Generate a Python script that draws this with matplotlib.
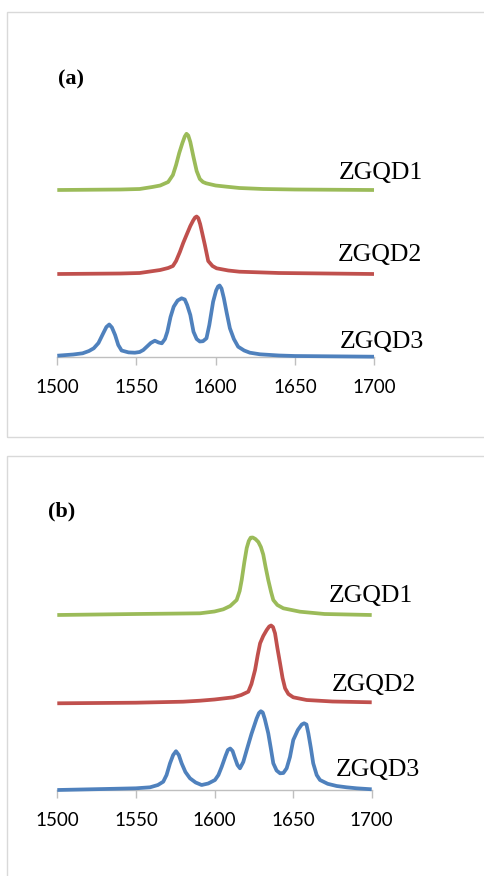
import matplotlib
matplotlib.use("Agg")
import matplotlib.pyplot as plt
from matplotlib.patches import Rectangle

# ---------------- data (panel a) ----------------
a_g_x = [1500, 1540, 1552, 1560, 1565, 1570, 1573, 1575, 1577, 1579, 1580.5, 1581.6, 1582.7, 1584, 1586, 1588, 1590, 1592, 1594, 1600, 1607, 1615, 1630, 1650, 1700]
a_g_y = [167, 167.5, 168, 170, 171.5, 175, 182, 192, 204, 214, 220.5, 223.2, 221.5, 215, 200, 186, 178, 175, 173.7, 171.5, 170.3, 169, 168, 167.5, 167]

a_r_x = [1500, 1540, 1552, 1565, 1570, 1573, 1575, 1577.4, 1579.5, 1581.6, 1584, 1585.8, 1587, 1588, 1589, 1590.2, 1591.5, 1593.2, 1595.3, 1598, 1600.6, 1608, 1615, 1640, 1700]
a_r_y = [83, 83.5, 84, 87, 89, 91, 96, 105, 114, 122, 131, 136.5, 139.5, 140.5, 139, 133, 124, 112, 96, 91, 88.7, 86.5, 85.3, 84, 83]

a_b_x = [1500, 1510, 1516, 1520, 1523, 1526, 1529, 1531, 1532.8, 1534.5, 1536.5, 1538.5, 1540.6, 1545, 1549, 1552, 1554.3, 1557, 1559, 1561.6, 1564, 1566, 1568, 1569.5, 1571.5, 1573.5, 1576, 1578.5, 1580.5, 1582, 1584, 1586, 1588, 1590, 1592, 1594.2, 1596, 1598.4, 1600.3, 1601.5, 1602.5, 1603.7, 1605.2, 1607, 1609, 1611.5, 1614.2, 1618, 1621.6, 1628, 1640, 1650, 1700]
a_b_y = [1.3, 2.5, 3.7, 6, 8.7, 14, 23.7, 30, 32.5, 29.5, 22, 12, 6.5, 4.6, 4.3, 5, 7, 11, 14, 16.3, 14.5, 13.7, 18, 25.3, 40, 50.3, 56.5, 58.7, 57.5, 52, 42, 25.3, 18, 15.5, 15.8, 18.7, 32, 55.3, 66.5, 70.5, 71.5, 68.5, 58.7, 44, 28.7, 18, 10.3, 6.5, 4.3, 2.7, 1.5, 1, 0.3]

# ---------------- data (panel b) ----------------
b_g_x = [1500, 1550, 1580, 1590.8, 1600, 1605.6, 1610, 1614.1, 1616, 1617.3, 1619, 1620.5, 1621.8, 1623, 1624.3, 1626, 1627.9, 1629.5, 1631, 1632.5, 1634.2, 1636, 1637.4, 1640, 1643.8, 1654.4, 1670, 1700]
b_g_y = [175, 176, 176.5, 176.7, 178.5, 180.7, 184, 190, 199, 210, 228, 242, 249, 252.3, 252.5, 251, 248, 243, 235.5, 223, 210, 198, 190, 185, 181.7, 178.3, 176, 175]

b_r_x = [1500, 1550, 1580, 1590.8, 1600, 1612, 1617, 1621.5, 1623.5, 1625.8, 1627.5, 1629, 1631, 1633.2, 1634.8, 1636, 1637.2, 1638.5, 1640, 1641.7, 1643.3, 1644.9, 1647, 1650.1, 1658.6, 1675, 1700]
b_r_y = [86.7, 87.3, 88.3, 89.3, 90.5, 92.7, 95, 98.3, 106, 120, 135, 146.7, 154, 160, 163.5, 164.5, 163, 156.7, 142, 126.7, 112, 101.7, 96, 92.7, 90, 88.5, 87.7]

b_b_x = [1500, 1530, 1550, 1559, 1564, 1567.4, 1569.5, 1571.7, 1573.7, 1575.5, 1577.3, 1579.1, 1581.5, 1584.4, 1588, 1591.8, 1596, 1600.3, 1602.5, 1604.6, 1607, 1608.5, 1610, 1611.5, 1613, 1614.6, 1616.2, 1618.3, 1620.5, 1623.5, 1626.8, 1628.3, 1629.5, 1630.7, 1632, 1634.2, 1635.8, 1637.4, 1639.5, 1641.7, 1643.8, 1645.9, 1648, 1650.1, 1653, 1655.5, 1657, 1658.5, 1659.7, 1661.3, 1662.8, 1665, 1667.1, 1672, 1677.7, 1684, 1690.4, 1700]
b_b_y = [0, 1, 1.7, 2.7, 5, 8.3, 15, 26.7, 35, 38.8, 35, 26.7, 18, 11.7, 7.5, 5, 6.5, 10, 15, 23.3, 34, 40, 41.5, 39, 32, 25, 21.7, 28, 40, 56, 71.5, 77, 78.8, 77.5, 71, 56.7, 42, 26.7, 19.5, 16.7, 17, 21.7, 33, 50, 60, 65.5, 66.7, 65.5, 56.7, 42, 26.7, 15, 10, 6.2, 4, 2.7, 1.7, 0.7]

x_ticks = [1500, 1550, 1600, 1650, 1700]
labels = ["ZGQD1", "ZGQD2", "ZGQD3"]
panel_names = ["(a)", "(b)"]

green = "#9BBB59"
red = "#C0504D"
blue = "#4F81BD"

W, H = 485, 876
fig = plt.figure(figsize=(W / 100, H / 100), dpi=100)
fig.patch.set_facecolor("white")

# panel borders
for (x0, y0, x1, y1) in [(7, 12, 495, 437), (7, 456, 495, 890)]:
    fig.patches.append(Rectangle((x0 / W, 1 - y1 / H), (x1 - x0) / W, (y1 - y0) / H,
                                 transform=fig.transFigure, fill=False,
                                 edgecolor="#D9D9D9", linewidth=1.0, zorder=0))


def make_ax(left_px, right_px, axis_py, top_py):
    ax = fig.add_axes([left_px / W, 1 - axis_py / H, (right_px - left_px) / W, (axis_py - top_py) / H])
    ax.set_xlim(1500, 1700)
    ax.set_ylim(0, axis_py - top_py)
    for s in ["top", "left", "right"]:
        ax.spines[s].set_visible(False)
    ax.spines["bottom"].set_color("#BFBFBF")
    ax.spines["bottom"].set_linewidth(1.0)
    ax.set_yticks([])
    ax.set_xticks(x_ticks)
    ax.tick_params(axis="x", direction="out", length=5.5, width=1.0, color="#BFBFBF",
                   pad=10.5, labelsize=13.5, labelcolor="#000000")
    for t in ax.get_xticklabels():
        t.set_family("Lato")
    ax.patch.set_alpha(0)
    return ax


lw = 2.7
style = dict(lw=lw, solid_joinstyle="round", solid_capstyle="butt", clip_on=False, zorder=3)

# panel (a)
axa = make_ax(57.3, 374, 357, 100)
axa.plot(a_g_x, a_g_y, color=green, **style)
axa.plot(a_r_x, a_r_y, color=red, **style)
axa.plot(a_b_x, a_b_y, color=blue, **style)
for lab, (lx, ly) in zip(labels, [(1677.9, 184), (1677.3, 102), (1678.5, 15.3)]):
    axa.text(lx, ly, lab, family="Liberation Serif", fontsize=18.5, ha="left", va="center", clip_on=False)

# panel (b)
axb = make_ax(57.3, 371.7, 790, 490)
axb.plot(b_g_x, b_g_y, color=green, **style)
axb.plot(b_r_x, b_r_y, color=red, **style)
axb.plot(b_b_x, b_b_y, color=blue, **style)
for lab, (lx, ly) in zip(labels, [(1672.4, 194.3), (1674.9, 105), (1677.1, 20)]):
    axb.text(lx, ly, lab, family="Liberation Serif", fontsize=18.5, ha="left", va="center", clip_on=False)

fig.text(58.3 / W, 1 - 79 / H, panel_names[0], family="Liberation Serif", fontweight="bold",
         fontsize=16, ha="left", va="center")
fig.text(48.3 / W, 1 - 511.7 / H, panel_names[1], family="Liberation Serif", fontweight="bold",
         fontsize=16, ha="left", va="center")

fig.savefig("out.png", dpi=100)
